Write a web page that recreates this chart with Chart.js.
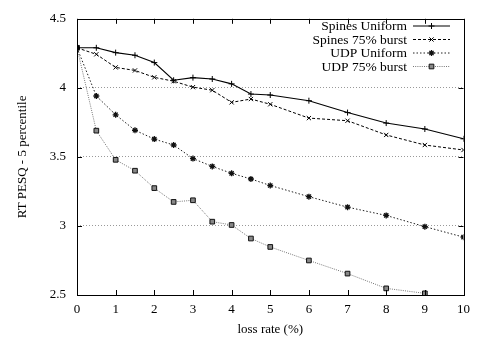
<!DOCTYPE html>
<html>
<head>
<meta charset="utf-8">
<script src="https://cdn.jsdelivr.net/npm/chart.js@4/dist/chart.umd.min.js"></script>
<style>
  html, body { margin: 0; padding: 0; background: #fff; }
  #wrap { width: 477px; height: 337px; }
</style>
</head>
<body>
<div id="wrap"><canvas id="c" width="477" height="337"></canvas></div>
<script>
// Loss rate (%) at which each measurement was taken
const lossRates = [0, 0.5, 1, 1.5, 2, 2.5, 3, 3.5, 4, 4.5, 5, 6, 7, 8, 9, 10];

// RT PESQ 5th percentile per configuration
const spinesUniform = [4.29, 4.29, 4.255, 4.236, 4.183, 4.055, 4.074, 4.064, 4.029, 3.955, 3.948, 3.907, 3.821, 3.745, 3.702, 3.631];
const spinesBurst   = [4.29, 4.243, 4.148, 4.126, 4.076, 4.048, 4.005, 3.983, 3.895, 3.919, 3.881, 3.781, 3.762, 3.659, 3.586, 3.55];
const udpUniform    = [4.29, 3.941, 3.805, 3.693, 3.629, 3.586, 3.488, 3.431, 3.381, 3.34, 3.293, 3.212, 3.136, 3.076, 2.995, 2.919];
const udpBurst      = [4.29, 3.69, 3.479, 3.4, 3.274, 3.174, 3.186, 3.031, 3.007, 2.909, 2.848, 2.75, 2.655, 2.548, 2.512, null];

const seriesNames = ['Spines Uniform', 'Spines 75% burst', 'UDP Uniform', 'UDP 75% burst'];
const xTicks = [0, 1, 2, 3, 4, 5, 6, 7, 8, 9, 10];
const yTicks = [2.5, 3, 3.5, 4, 4.5];

const FONT = '"Liberation Serif", "Times New Roman", serif';

function pts(values) {
  const out = [];
  values.forEach((v, i) => { if (v !== null) out.push({ x: lossRates[i], y: v }); });
  return out;
}

// Frame, inward ticks on all four sides, and the key in the top-right corner
const framePlugin = {
  id: 'frame',
  afterDatasetsDraw(chart) {
    const { ctx, chartArea: a, scales: { x, y } } = chart;
    ctx.save();
    ctx.strokeStyle = '#000';
    ctx.lineWidth = 1;
    ctx.setLineDash([]);
    const T = 5;
    ctx.beginPath();
    xTicks.forEach(v => {
      const px = Math.round(x.getPixelForValue(v)) + 0.5;
      ctx.moveTo(px, a.bottom); ctx.lineTo(px, a.bottom - T);
      ctx.moveTo(px, a.top); ctx.lineTo(px, a.top + T);
    });
    yTicks.forEach(v => {
      const py = Math.round(y.getPixelForValue(v)) + 0.5;
      ctx.moveTo(a.left, py); ctx.lineTo(a.left + T, py);
      ctx.moveTo(a.right, py); ctx.lineTo(a.right - T, py);
    });
    ctx.stroke();
    ctx.strokeRect(Math.round(a.left) + 0.5, Math.round(a.top) + 0.5,
                   Math.round(a.right - a.left), Math.round(a.bottom - a.top));

    // key
    const textRight = 407, lineL = 413, lineR = 450;
    const rows = [25.5, 39, 52.5, 66];
    ctx.font = '13.5px ' + FONT;
    ctx.textAlign = 'right';
    ctx.textBaseline = 'middle';
    chart.data.datasets.forEach((ds, i) => {
      const yy = rows[i];
      ctx.fillStyle = '#000';
      ctx.fillText(ds.label, textRight, yy + 1);
      ctx.save();
      ctx.strokeStyle = ds.borderColor;
      ctx.lineWidth = ds.borderWidth;
      ctx.setLineDash(ds.borderDash || []);
      ctx.beginPath();
      ctx.moveTo(lineL, yy + 0.5); ctx.lineTo(lineR, yy + 0.5);
      ctx.stroke();
      ctx.restore();
      ctx.save();
      ctx.setLineDash([]);
      ctx.strokeStyle = ds.pointBorderColor;
      ctx.fillStyle = ds.pointBackgroundColor;
      ctx.lineWidth = ds.pointBorderWidth;
      Chart.helpers.drawPoint(ctx, { pointStyle: ds.pointStyle, radius: ds.pointRadius, rotation: 0, borderWidth: ds.pointBorderWidth }, (lineL + lineR) / 2, yy + 0.5);
      ctx.restore();
    });
    ctx.restore();
  }
};

new Chart(document.getElementById('c'), {
  type: 'line',
  data: {
    datasets: [
      {
        label: seriesNames[0], data: pts(spinesUniform),
        borderColor: '#000', borderWidth: 1.1, borderDash: [],
        pointStyle: 'cross', pointRadius: 3, pointBorderWidth: 1,
        pointBorderColor: '#000', pointBackgroundColor: '#000'
      },
      {
        label: seriesNames[1], data: pts(spinesBurst),
        borderColor: '#000', borderWidth: 1, borderDash: [3, 2],
        pointStyle: 'crossRot', pointRadius: 3, pointBorderWidth: 1,
        pointBorderColor: '#000', pointBackgroundColor: '#000'
      },
      {
        label: seriesNames[2], data: pts(udpUniform),
        borderColor: '#222', borderWidth: 1, borderDash: [1.5, 2],
        pointStyle: 'star', pointRadius: 3, pointBorderWidth: 1.3,
        pointBorderColor: '#111', pointBackgroundColor: '#111'
      },
      {
        label: seriesNames[3], data: pts(udpBurst),
        borderColor: '#777', borderWidth: 1, borderDash: [1, 1.2],
        pointStyle: 'rect', pointRadius: 3.3, pointBorderWidth: 1,
        pointBorderColor: '#111', pointBackgroundColor: '#888'
      }
    ]
  },
  options: {
    responsive: false,
    animation: false,
    events: [],
    layout: { padding: { top: 15, right: 12, left: 0, bottom: 0 } },
    plugins: { legend: { display: false }, tooltip: { enabled: false } },
    elements: { line: { tension: 0, fill: false } },
    scales: {
      x: {
        type: 'linear', min: 0, max: 10,
        afterFit(s) { s.height = 42; },
        afterBuildTicks(s) { s.ticks = xTicks.map(v => ({ value: v })); },
        grid: { display: false, drawTicks: false },
        border: { display: false },
        ticks: { color: '#000', padding: 7, maxRotation: 0, font: { family: FONT, size: 13 } },
        title: { display: true, text: 'loss rate (%)', color: '#000', padding: { top: 2, bottom: 0 }, font: { family: FONT, size: 13 } }
      },
      y: {
        type: 'linear', min: 2.5, max: 4.5,
        afterFit(s) { s.width = 77; },
        afterBuildTicks(s) { s.ticks = yTicks.map(v => ({ value: v })); },
        grid: {
          drawTicks: false,
          color: ctx => (ctx.tick && (ctx.tick.value === 2.5 || ctx.tick.value === 4.5)) ? 'rgba(0,0,0,0)' : '#999',
          lineWidth: 1
        },
        border: { display: false, dash: [1, 2] },
        ticks: { color: '#000', padding: 11, font: { family: FONT, size: 13 }, callback: v => String(v) },
        title: { display: true, text: 'RT PESQ - 5 percentile', color: '#000', padding: { top: 15, bottom: 0 }, font: { family: FONT, size: 13 } }
      }
    }
  },
  plugins: [framePlugin]
});
</script>
</body>
</html>
